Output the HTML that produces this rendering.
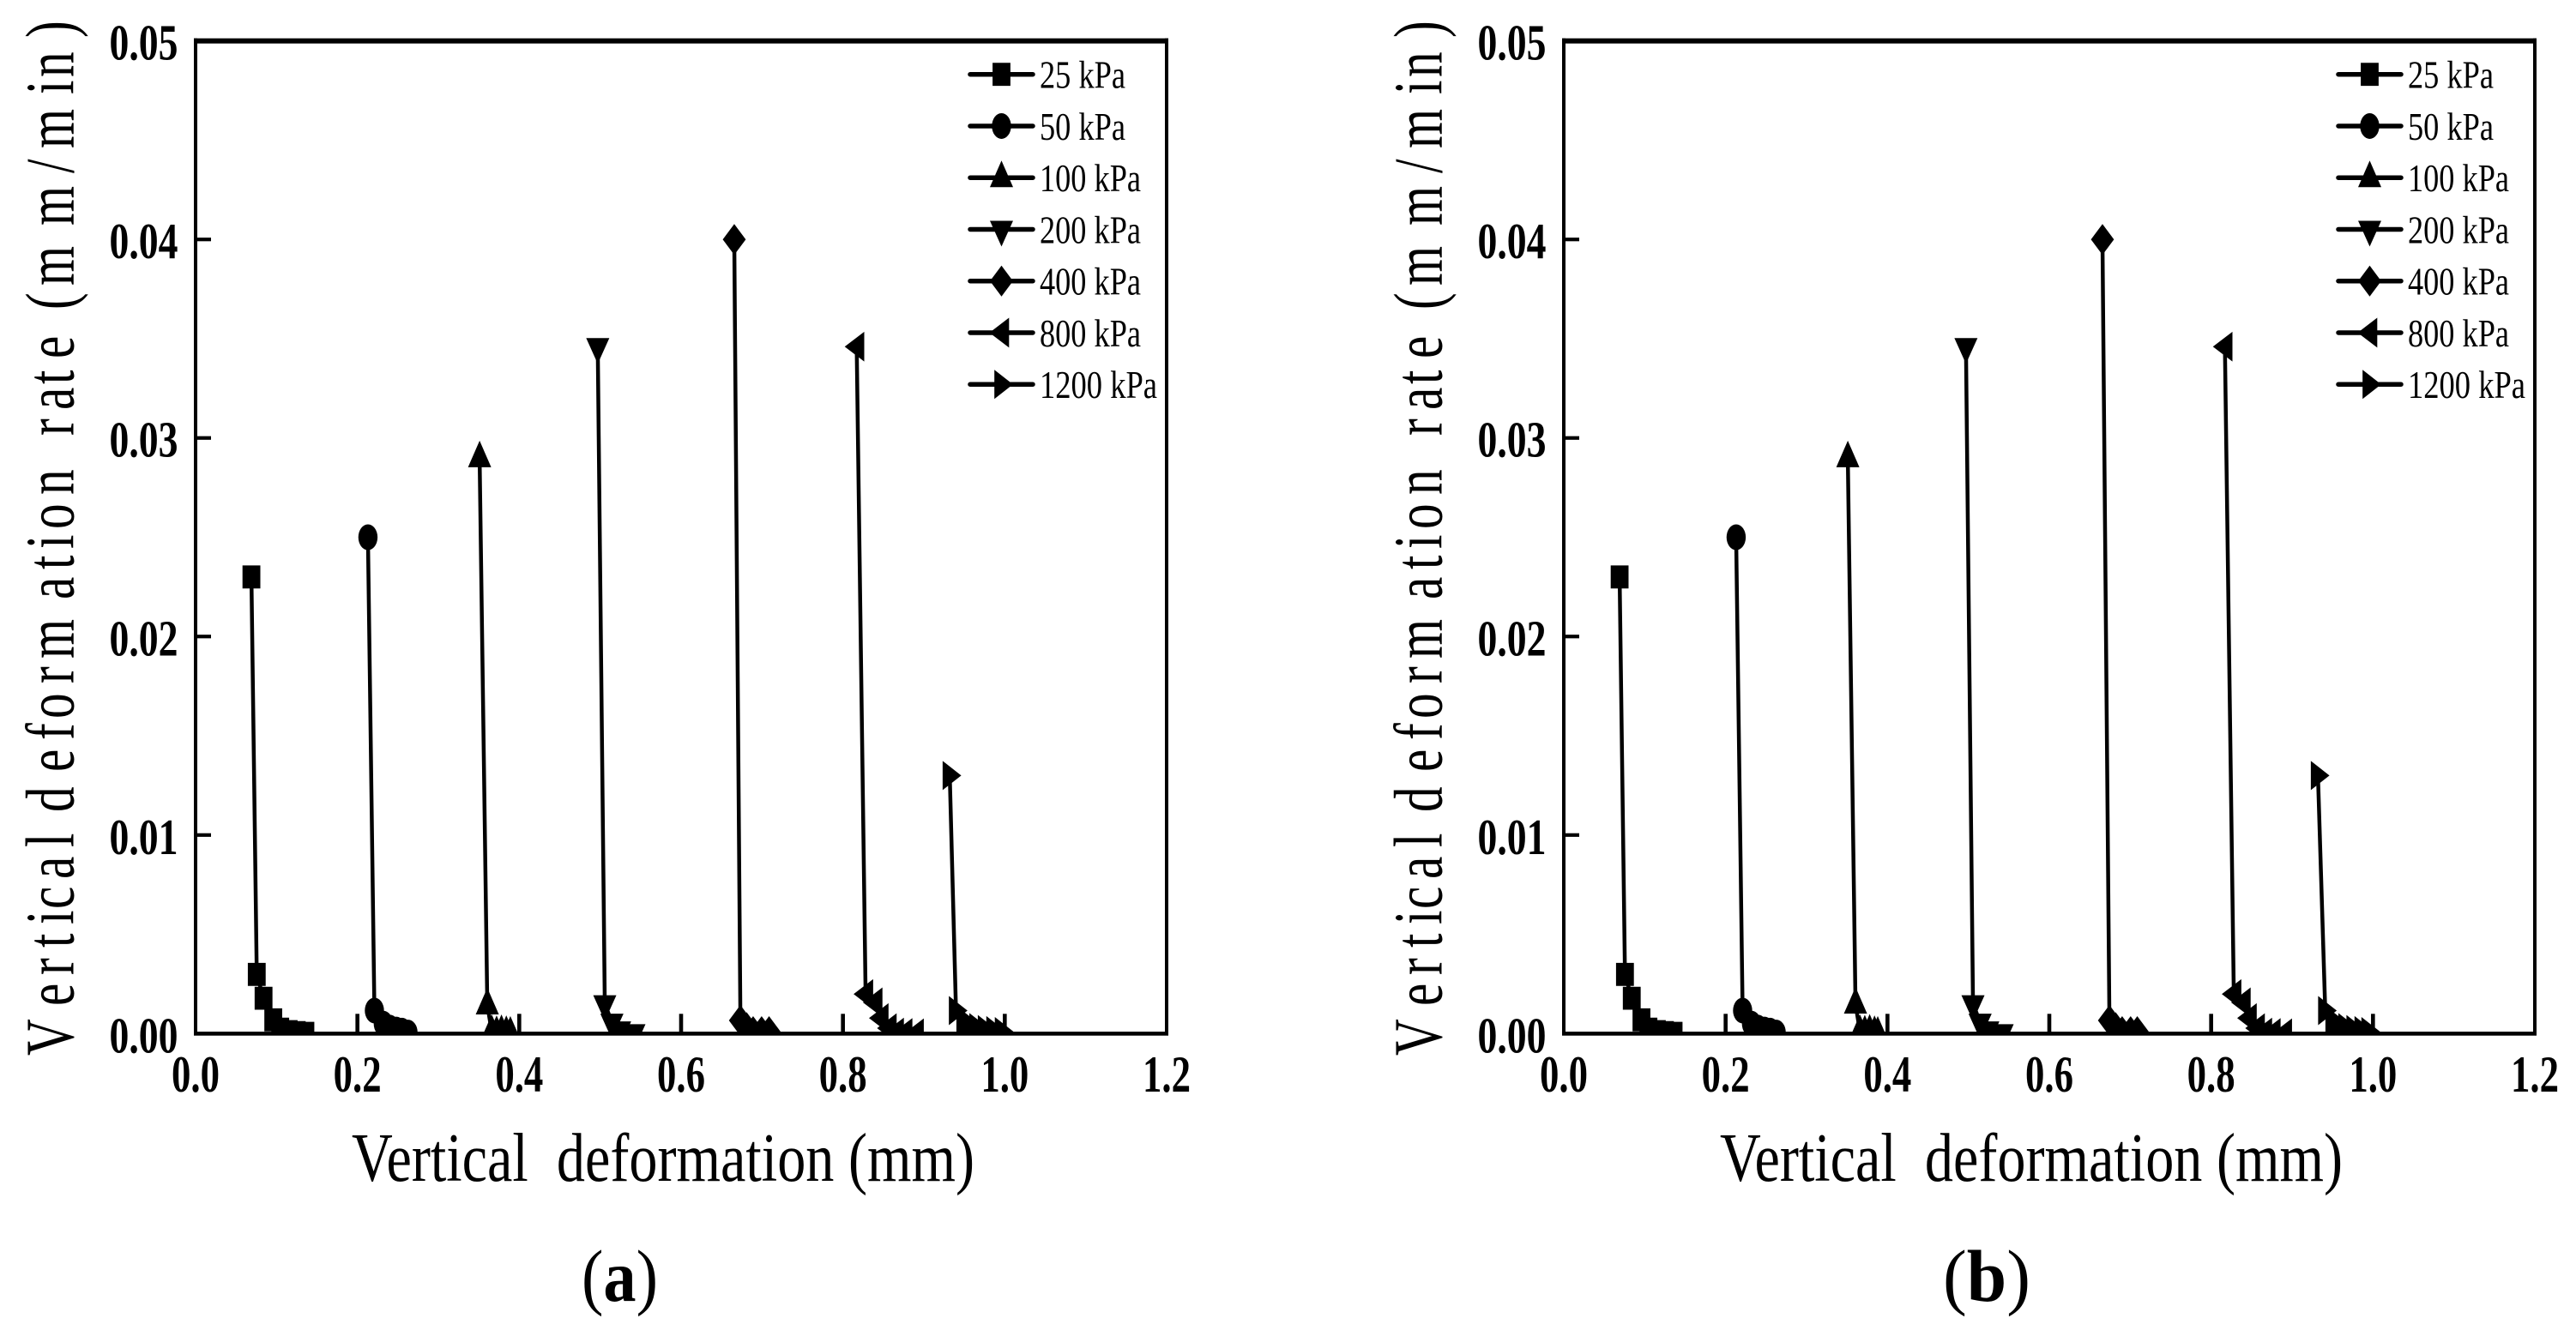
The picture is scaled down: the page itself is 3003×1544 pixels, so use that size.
<!DOCTYPE html>
<html lang="en">
<head>
<meta charset="utf-8">
<title>Vertical deformation rate charts</title>
<style>
html,body{margin:0;padding:0;background:#fff;width:3003px;height:1544px;overflow:hidden}
svg{display:block}
text{font-family:"Liberation Serif",serif;fill:#000}
</style>
</head>
<body>
<svg id="figure" width="3003" height="1544" viewBox="0 0 3003 1544" xmlns="http://www.w3.org/2000/svg">
<rect width="3003" height="1544" fill="#fff"/>
</svg>
<script>
const xTickValues = [0, 0.2, 0.4, 0.6, 0.8, 1.0, 1.2];
const xTickLabels = ["0.0", "0.2", "0.4", "0.6", "0.8", "1.0", "1.2"];
const yTickValues = [0, 0.01, 0.02, 0.03, 0.04, 0.05];
const yTickLabels = ["0.00", "0.01", "0.02", "0.03", "0.04", "0.05"];
const seriesLabels = ["25 kPa", "50 kPa", "100 kPa", "200 kPa", "400 kPa", "800 kPa", "1200 kPa"];

const a25x = [0.069, 0.0756, 0.084, 0.096, 0.1046, 0.115, 0.125, 0.1357];
const a25y = [0.023, 0.00298, 0.00178, 0.00069, 0.00022, 0.0001, 0.00005, 0.00001];
const a50x = [0.213, 0.221, 0.232, 0.24, 0.248, 0.255, 0.2625];
const a50y = [0.025, 0.00116, 0.0005, 0.0003, 0.0002, 0.00015, 0.00005];
const a100x = [0.351, 0.3605, 0.366, 0.372, 0.378, 0.384, 0.389];
const a100y = [0.029, 0.00144, 0.0001, 0.00005, 0.0001, 0.00005, 0.00002];
const a200x = [0.497, 0.5057, 0.5145, 0.524, 0.5417];
const a200y = [0.0346, 0.0015, 0.00057, 0.00018, 0.00004];
const a400x = [0.6657, 0.6733, 0.681, 0.689, 0.6995, 0.7087];
const a400y = [0.04, 0.00066, 0.0003, 0.0001, 0.0001, 0.0001];
const a800x = [0.817, 0.828, 0.8395, 0.847, 0.857, 0.866, 0.8765, 0.8906];
const a800y = [0.0346, 0.00199, 0.00157, 0.00078, 0.00027, 0.00005, 0.00003, 0.00001];
const a1200x = [0.932, 0.9397, 0.949, 0.957, 0.965, 0.9755, 0.986, 0.9965];
const a1200y = [0.013, 0.00116, 0.0005, 0.0004, 0.0003, 0.0002, 0.00015, 0.0001];

const b25x = [0.069, 0.0756, 0.084, 0.096, 0.1046, 0.115, 0.125, 0.1357];
const b25y = [0.023, 0.00298, 0.00178, 0.00069, 0.00022, 0.0001, 0.00005, 0.00001];
const b50x = [0.213, 0.221, 0.232, 0.24, 0.248, 0.255, 0.2625];
const b50y = [0.025, 0.00116, 0.0005, 0.0003, 0.0002, 0.00015, 0.00005];
const b100x = [0.351, 0.3605, 0.366, 0.372, 0.378, 0.384, 0.388];
const b100y = [0.029, 0.00148, 0.0001, 0.00008, 0.00012, 0.00005, 0.00002];
const b200x = [0.497, 0.5057, 0.5145, 0.524, 0.5417];
const b200y = [0.0346, 0.0015, 0.00057, 0.00018, 0.00004];
const b400x = [0.6657, 0.6743, 0.682, 0.69, 0.7005, 0.7087];
const b400y = [0.04, 0.00066, 0.0003, 0.0001, 0.0001, 0.0001];
const b800x = [0.817, 0.828, 0.8395, 0.847, 0.857, 0.866, 0.8765, 0.8906];
const b800y = [0.0346, 0.00199, 0.00157, 0.00078, 0.00027, 0.00005, 0.00003, 0.00001];
const b1200x = [0.932, 0.941, 0.95, 0.958, 0.966, 0.976, 0.986, 0.9945];
const b1200y = [0.013, 0.00116, 0.0005, 0.0004, 0.0003, 0.0002, 0.00015, 0.0001];

const panelASeries = [[a25x,a25y],[a50x,a50y],[a100x,a100y],[a200x,a200y],[a400x,a400y],[a800x,a800y],[a1200x,a1200y]];
const panelBSeries = [[b25x,b25y],[b50x,b50y],[b100x,b100y],[b200x,b200y],[b400x,b400y],[b800x,b800y],[b1200x,b1200y]];

const NS = "http://www.w3.org/2000/svg";
const root = document.getElementById("figure");
const shapeNames = ["square","circle","triangle-up","triangle-down","diamond","triangle-left","triangle-right"];

/* Along-text start of each glyph of the rotated y-axis title, in page pixels */
const yTitleGlyphStarts = [0,58,94,126,153,171,206,243,262,284,331,368,393,434,463,532,567,591,614,654,700,723,753,783,813,845,870,898,968,1029,1058,1121,1141,1187];
const yTitleGlyphScale = 0.74;

function make(tag, parent, attrs) {
  const el = document.createElementNS(NS, tag);
  for (const k in attrs) el.setAttribute(k, attrs[k]);
  parent.appendChild(el);
  return el;
}

function drawMarker(parent, shape, cx, cy, name) {
  let el;
  if (shape === "circle") {
    el = make("ellipse", parent, {cx: cx, cy: cy, rx: 11.2, ry: 15, fill: "#000"});
  } else {
    const offsets = {
      "square": [[-10.4,-13.4],[10.4,-13.4],[10.4,13.4],[-10.4,13.4]],
      "triangle-up": [[0,-20],[13.5,11],[-13.5,11]],
      "triangle-down": [[-13.5,-10],[13.5,-10],[0,20]],
      "diamond": [[0,-18],[13.4,0],[0,18],[-13.4,0]],
      "triangle-left": [[-14,0],[8.8,-17.4],[8.8,17.4]],
      "triangle-right": [[-8.3,-17],[13.4,0],[-8.3,17]]
    }[shape];
    const pts = offsets.map(p => (cx + p[0]) + "," + (cy + p[1])).join(" ");
    el = make("polygon", parent, {points: pts, fill: "#000"});
  }
  
  
  return el;
}

function drawPanel(id, offset, seriesList, caption, captionX, captionLen) {
  const left = 228 + offset;
  const right = 1360 + offset;
  const top = 47.7;
  const bottom = 1205.3;
  const xScale = v => left + v / 1.2 * (right - left);
  const yScale = v => bottom - v / 0.05 * (bottom - top);

  const panel = make("g", root, {});
  
  

  const defs = make("defs", panel, {});
  const clip = make("clipPath", defs, {id: "clip-" + id});
  make("rect", clip, {x: left, y: top, width: right - left, height: bottom - top + 1});

  const plot = make("g", panel, {"clip-path": "url(#clip-" + id + ")"});
  
  

  seriesList.forEach((s, i) => {
    const g = make("g", plot, {});
    
    
    const pts = s[0].map((x, j) => xScale(x) + "," + yScale(s[1][j])).join(" ");
    const line = make("polyline", g, {points: pts, fill: "none", stroke: "#000", "stroke-width": 4.5});
    
    
    s[0].forEach((x, j) => {
      drawMarker(g, shapeNames[i], xScale(x), yScale(s[1][j]), 'data-point');
    });
  });

  const axes = make("g", panel, {fill: "#000"});
  
  
  make("rect", axes, {x: left - 2, y: top - 3, width: right - left + 4, height: 6});
  make("rect", axes, {x: left - 2, y: bottom - 2.2, width: right - left + 4, height: 4.6});
  make("rect", axes, {x: left - 2, y: top - 3, width: 4, height: bottom - top + 5});
  make("rect", axes, {x: right - 2, y: top - 3, width: 4, height: bottom - top + 5});

  xTickValues.forEach((v, i) => {
    const x = xScale(v);
    if (i > 0 && i < xTickValues.length - 1) {
      const t = make("rect", axes, {x: x - 2.3, y: bottom - 23, width: 4.6, height: 23});
      
      
    }
    const lab = make("text", panel, {x: x, y: 1273, "text-anchor": "middle", "font-size": 60, "font-weight": "bold", textLength: 56, lengthAdjust: "spacingAndGlyphs"});
    lab.textContent = xTickLabels[i];
    
    
  });

  yTickValues.forEach((v, i) => {
    const y = yScale(v);
    if (i > 0 && i < yTickValues.length - 1) {
      const t = make("rect", axes, {x: left, y: y - 2.1, width: 18, height: 4.2});
      
      
    }
    const lab = make("text", panel, {x: 127.5 + offset, y: y + 22, "font-size": 59, "font-weight": "bold", textLength: 80, lengthAdjust: "spacingAndGlyphs"});
    lab.textContent = yTickLabels[i];
    
    
  });

  const yTitle = make("text", panel, {
    transform: "translate(" + (85.5 + offset) + ",1231) rotate(-90) scale(" + yTitleGlyphScale + ",1)",
    "font-size": 80,
    x: yTitleGlyphStarts.map(d => (d / yTitleGlyphScale).toFixed(1)).join(" "),
    y: 0
  });
  yTitle.textContent = "Vertical deformation rate (mm/min)";
  
  

  const xTitle = make("text", panel, {x: 410 + offset, y: 1377, "font-size": 80, textLength: 726, lengthAdjust: "spacingAndGlyphs"});
  xTitle.textContent = "Vertical\u00a0\u00a0deformation (mm)";
  
  

  const legend = make("g", panel, {});
  
  
  seriesLabels.forEach((label, i) => {
    const ly = 86.7 + i * 60.25;
    const entry = make("g", legend, {});
    
    
    make("line", entry, {x1: 1131 + offset, x2: 1204 + offset, y1: ly, y2: ly, stroke: "#000", "stroke-width": 5.5, "stroke-linecap": "round"});
    drawMarker(entry, shapeNames[i], 1167.5 + offset, ly, 'legend-marker');
    const len = label.length === 6 ? 100 : (label.length === 7 ? 118 : 137);
    const t = make("text", entry, {x: 1212 + offset, y: ly + 16, "font-size": 46, textLength: len, lengthAdjust: "spacingAndGlyphs"});
    t.textContent = label;
    
    
  });

  const cap = make("text", panel, {x: captionX, y: 1517, "font-size": 86, textLength: captionLen, lengthAdjust: "spacingAndGlyphs"});
  
  
  const c1 = make("tspan", cap, {});
  c1.textContent = "(";
  const c2 = make("tspan", cap, {"font-weight": "bold"});
  c2.textContent = caption;
  const c3 = make("tspan", cap, {});
  c3.textContent = ")";
}

drawPanel("a", 0, panelASeries, "a", 678, 89);
drawPanel("b", 1595, panelBSeries, "b", 2265, 102);
</script>
</body>
</html>
